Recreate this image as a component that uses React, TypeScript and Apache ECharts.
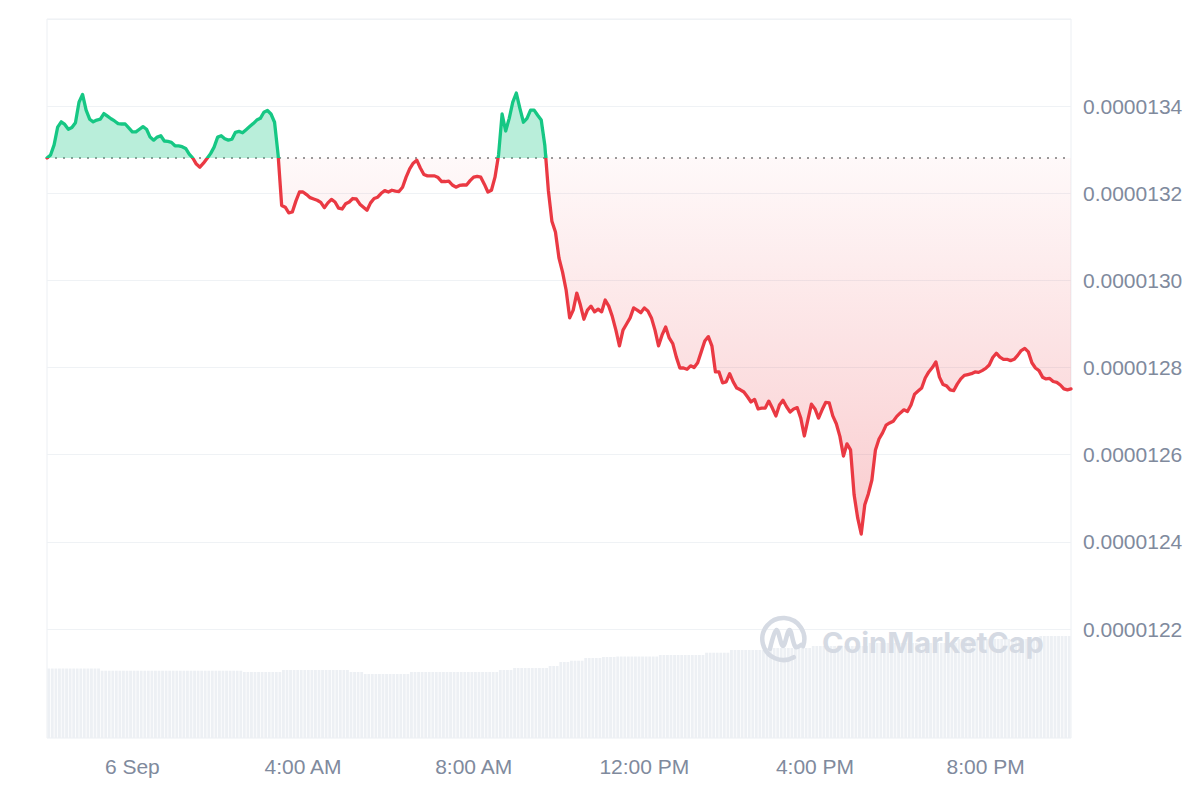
import React, { useEffect, useRef } from "react";
import * as echarts from "echarts";

// time axis: hours relative to midnight 6 Sep, 5-minute samples
const START_HOUR = -2;
const END_HOUR = 22;
const STEP_HOURS = 5 / 60;

// price in units of 1e-7 USD, one value every 5 minutes
const priceE7 = [
  132.81, 132.88, 133.11, 133.52, 133.64, 133.58, 133.47, 133.51, 133.62, 134.09,
  134.27, 133.91, 133.70, 133.64, 133.68, 133.70, 133.83, 133.77, 133.71, 133.66,
  133.60, 133.59, 133.59, 133.50, 133.41, 133.41, 133.47, 133.53, 133.47, 133.29,
  133.22, 133.29, 133.32, 133.20, 133.19, 133.17, 133.09, 133.09, 133.07, 133.03,
  132.90, 132.81, 132.67, 132.60, 132.69, 132.80, 132.91, 133.06, 133.29, 133.32,
  133.25, 133.22, 133.24, 133.40, 133.42, 133.39, 133.46, 133.53, 133.60, 133.68,
  133.72, 133.86, 133.90, 133.82, 133.63, 132.88, 131.72, 131.68, 131.55, 131.57,
  131.82, 132.03, 132.03, 131.97, 131.90, 131.87, 131.84, 131.79, 131.67, 131.78,
  131.86, 131.80, 131.66, 131.64, 131.76, 131.80, 131.88, 131.87, 131.75, 131.68,
  131.61, 131.78, 131.88, 131.91, 132.00, 132.06, 132.03, 132.07, 132.05, 132.04,
  132.14, 132.37, 132.56, 132.69, 132.76, 132.58, 132.43, 132.40, 132.40, 132.40,
  132.36, 132.27, 132.27, 132.28, 132.19, 132.14, 132.18, 132.19, 132.19, 132.29,
  132.37, 132.39, 132.37, 132.21, 132.03, 132.07, 132.37, 132.88, 133.82, 133.43,
  133.72, 134.09, 134.30, 133.95, 133.63, 133.72, 133.91, 133.91, 133.79, 133.68,
  133.11, 132.07, 131.36, 131.11, 130.51, 130.19, 129.78, 129.14, 129.32, 129.71,
  129.44, 129.11, 129.32, 129.41, 129.28, 129.34, 129.28, 129.55, 129.41, 129.17,
  128.86, 128.50, 128.86, 129.00, 129.14, 129.37, 129.32, 129.26, 129.37, 129.30,
  129.14, 128.86, 128.50, 128.75, 128.93, 128.68, 128.55, 128.24, 127.99, 127.99,
  127.96, 128.04, 128.00, 128.11, 128.36, 128.61, 128.71, 128.50, 127.90, 127.90,
  127.65, 127.67, 127.86, 127.67, 127.53, 127.49, 127.44, 127.33, 127.21, 127.27,
  127.05, 127.07, 127.07, 127.23, 127.07, 126.89, 127.14, 127.25, 127.10, 126.98,
  127.05, 127.08, 126.84, 126.43, 126.80, 127.16, 127.05, 126.84, 127.03, 127.20,
  127.19, 126.89, 126.71, 126.42, 125.97, 126.25, 126.11, 125.08, 124.55, 124.18,
  124.85, 125.10, 125.42, 126.11, 126.36, 126.50, 126.68, 126.73, 126.77, 126.88,
  126.96, 127.03, 126.99, 127.14, 127.39, 127.46, 127.53, 127.76, 127.90, 128.00,
  128.13, 127.78, 127.61, 127.58, 127.49, 127.47, 127.62, 127.74, 127.82, 127.84,
  127.86, 127.90, 127.89, 127.93, 127.98, 128.06, 128.23, 128.33, 128.24, 128.19,
  128.19, 128.16, 128.19, 128.28, 128.39, 128.44, 128.36, 128.11, 127.99, 127.93,
  127.78, 127.74, 127.75, 127.68, 127.66, 127.60, 127.51, 127.49, 127.51,
];

// reference (opening) price shown by the dotted line
const BASE_E7 = 132.81;

// rolling volume, arbitrary units, one bar per 5 minutes
const volume = [
  6.95, 6.95, 6.95, 6.95, 6.95, 6.95, 6.95, 6.95, 6.95, 6.95, 6.95, 6.95, 6.95, 6.95, 6.95,
  6.73, 6.73, 6.73, 6.73, 6.73, 6.73, 6.73, 6.73, 6.73, 6.73, 6.73, 6.73, 6.73, 6.73, 6.73, 6.73, 6.73, 6.73, 6.73, 6.73,
  6.73, 6.73, 6.73, 6.73, 6.73, 6.73, 6.73, 6.73, 6.73, 6.73, 6.73, 6.73, 6.73, 6.73, 6.73, 6.73, 6.73, 6.73, 6.73, 6.73,
  6.6, 6.6, 6.6, 6.6, 6.6, 6.6, 6.6, 6.6, 6.6, 6.6, 6.6,
  6.8, 6.8, 6.8, 6.8, 6.8, 6.8, 6.8, 6.8, 6.8, 6.8, 6.8, 6.8, 6.8, 6.8, 6.8, 6.8, 6.8, 6.8, 6.8,
  6.6, 6.6, 6.6, 6.6, 6.4, 6.4, 6.4, 6.4, 6.4, 6.4, 6.4, 6.4, 6.4, 6.4, 6.4, 6.4, 6.4,
  6.6, 6.6, 6.6, 6.6, 6.6, 6.6, 6.6, 6.6, 6.6, 6.6, 6.6, 6.6, 6.6, 6.6, 6.6, 6.6, 6.6, 6.6, 6.6, 6.6, 6.6, 6.6, 6.6, 6.6, 6.6,
  6.8, 6.8, 6.8, 6.8, 7.0, 7.0, 7.0, 7.0, 7.0, 7.0, 7.0, 7.0, 7.0, 7.0, 7.2, 7.2, 7.2, 7.6, 7.6, 7.6,
  7.73, 7.73, 7.73, 7.73, 8.0, 8.0, 8.0, 8.0, 8.0, 8.1, 8.1, 8.1, 8.1,
  8.15, 8.15, 8.15, 8.15, 8.15, 8.15, 8.15, 8.15, 8.15, 8.15, 8.15, 8.15,
  8.3, 8.3, 8.3, 8.3, 8.3, 8.3, 8.3, 8.3, 8.3, 8.3, 8.3, 8.3, 8.3, 8.53, 8.53, 8.53, 8.53, 8.53, 8.53, 8.53,
  8.8, 8.8, 8.8, 8.8, 8.8, 8.8, 8.8, 8.8, 8.8, 8.8, 9.0, 9.0, 9.0, 9.0, 9.0, 9.0, 9.0, 9.0, 9.0, 9.0, 9.0, 9.0, 9.0,
  9.2, 9.2, 9.2, 9.2, 9.2, 9.2, 9.2, 9.2, 9.2, 9.2, 9.2, 9.2, 9.2, 9.2, 9.2, 9.2,
  9.5, 9.5, 9.5, 9.5, 9.5, 9.5, 9.5, 9.5, 9.5, 9.5, 9.5, 9.5, 9.5, 9.5, 9.5, 9.5, 9.5, 9.5, 9.5, 9.5, 9.5, 9.5, 9.5, 9.5, 9.5,
  9.9, 9.9, 9.9, 9.9, 9.9, 9.9, 9.9, 9.9, 9.9, 9.9, 9.9, 9.9, 9.9, 9.9, 9.9, 9.9, 9.9, 9.9, 9.9, 9.9, 9.9, 9.9, 9.9,
  10.2, 10.2, 10.2, 10.2, 10.2, 10.2, 10.2, 10.2, 10.2,
];

const xTickHours = [0, 4, 8, 12, 16, 20];
const xTickLabels = ["6 Sep", "4:00 AM", "8:00 AM", "12:00 PM", "4:00 PM", "8:00 PM"];
const X_STEP = 2;

const Y_MIN = 0.0000122;
const Y_MAX = 0.0000136;
const Y_STEP = 0.0000002;
const VOL_MAX = 71.9;

const GREEN = "#16c784";
const RED = "#ea3943";
const LABEL = "#808a9d";
const GRID_LINE = "#eff2f5";
const FONT = "'Liberation Sans', Arial, sans-serif";
const HEIGHT = 800;

export default function App() {
  const ref = useRef<HTMLDivElement>(null);

  useEffect(() => {
    if (!ref.current) return;
    const chart = echarts.init(ref.current, null, { renderer: "svg" });
    const base = BASE_E7 * 1e-7;
    const t = (i: number) => START_HOUR + i * STEP_HOURS;
    const lineData = priceE7.map((p, i) => [t(i), p * 1e-7]);
    const upper = priceE7.map((p, i) => [t(i), Math.max(p, BASE_E7) * 1e-7]);
    const lower = priceE7.map((p, i) => [t(i), Math.min(p, BASE_E7) * 1e-7]);
    const volData = volume.map((v, i) => [t(i + 0.5), v]);

    chart.setOption({
      animation: false,
      backgroundColor: "#ffffff",
      textStyle: { fontFamily: FONT },
      grid: [
        { left: 47, right: 129, top: 19, bottom: 171 },
        {
          left: 47, right: 129, top: 19, bottom: 62,
          show: true, borderColor: "#eceff3", borderWidth: 1, backgroundColor: "transparent",
        },
      ],
      xAxis: [
        { type: "value", gridIndex: 0, min: START_HOUR, max: END_HOUR, show: false },
        {
          type: "value", gridIndex: 1, min: START_HOUR, max: END_HOUR, interval: X_STEP,
          axisLine: { show: false }, axisTick: { show: false }, splitLine: { show: false },
          axisLabel: {
            color: LABEL, fontSize: 21, margin: 18, fontFamily: FONT,
            showMinLabel: true, showMaxLabel: true, hideOverlap: false,
            formatter: (v: number) => {
              const k = xTickHours.indexOf(Math.round(v));
              return k >= 0 ? xTickLabels[k] : "";
            },
          },
        },
      ],
      yAxis: [
        {
          type: "value", gridIndex: 0, position: "right",
          min: Y_MIN, max: Y_MAX, interval: Y_STEP,
          axisLine: { show: false }, axisTick: { show: false },
          axisLabel: {
            color: LABEL, fontSize: 21, margin: 12, fontFamily: FONT,
            formatter: (v: number) => (v > Y_MAX - Y_STEP / 2 ? "" : v.toFixed(7)),
          },
          splitLine: { lineStyle: { color: GRID_LINE, width: 1 } },
        },
        { type: "value", gridIndex: 1, min: 0, max: VOL_MAX, show: false },
      ],
      series: [
        {
          id: "volume", type: "bar", xAxisIndex: 1, yAxisIndex: 1, data: volData,
          barWidth: 2.8, itemStyle: { color: "#edf0f4" }, silent: true,
        },
        {
          id: "up", type: "line", xAxisIndex: 0, yAxisIndex: 0, data: upper,
          showSymbol: false, symbol: "none", silent: true,
          lineStyle: { width: 0, opacity: 0 },
          areaStyle: { origin: base, color: "rgba(22,199,132,0.3)", opacity: 1 },
        },
        {
          id: "down", type: "line", xAxisIndex: 0, yAxisIndex: 0, data: lower,
          showSymbol: false, symbol: "none", silent: true,
          lineStyle: { width: 0, opacity: 0 },
          areaStyle: {
            origin: base, opacity: 1,
            color: new echarts.graphic.LinearGradient(0, 0, 0, 1, [
              { offset: 0, color: "rgba(234,57,67,0.03)" },
              { offset: 1, color: "rgba(234,57,67,0.26)" },
            ]),
          },
        },
        {
          id: "price", type: "line", xAxisIndex: 0, yAxisIndex: 0, data: lineData, z: 5,
          showSymbol: false, symbol: "none", silent: true,
          lineStyle: { width: 3.3, join: "round", cap: "round", color: RED },
          markLine: {
            silent: true, symbol: ["none", "none"], label: { show: false }, z: 3,
            precision: 12,
            emphasis: { disabled: true },
            lineStyle: { color: "#9a9a9a", width: 2, type: [2, 6], opacity: 1 },
            data: [{ yAxis: base }],
          },
        },
      ],
      graphic: [
        {
          type: "arc", z: 50, silent: true,
          shape: { cx: 783.3, cy: 639, r: 21, startAngle: Math.PI / 3, endAngle: Math.PI * 2 + Math.PI / 9 },
          style: { stroke: "#d5dae3", lineWidth: 4.5, fill: "none", lineCap: "round" },
        },
        {
          type: "polyline", z: 50, silent: true,
          shape: {
            points: [[770, 649], [776.5, 630], [783, 646], [789.5, 630], [795.5, 647], [801, 645]],
            smooth: 0.35,
          },
          style: { stroke: "#d5dae3", lineWidth: 4.5, fill: "none", lineCap: "round", lineJoin: "round" },
        },
        {
          type: "text", z: 50, silent: true, x: 822, y: 642,
          style: {
            text: "CoinMarketCap", fill: "#d5dae3", fontSize: 29, fontWeight: 700,
            fontFamily: "Inter, 'Open Sans', sans-serif", verticalAlign: "middle", align: "left",
          },
        },
      ],
    });

    // colour the price line green above the reference price and red below it
    const yBase = chart.convertToPixel({ yAxisIndex: 0 }, base) as number;
    const f = Math.min(1, Math.max(0, yBase / HEIGHT));
    chart.setOption({
      series: [
        {
          id: "price",
          lineStyle: {
            color: new echarts.graphic.LinearGradient(0, 0, 0, HEIGHT, [
              { offset: 0, color: GREEN },
              { offset: f, color: GREEN },
              { offset: f, color: RED },
              { offset: 1, color: RED },
            ], true),
          },
        },
      ],
    });

    return () => chart.dispose();
  }, []);

  return (
    <div
      ref={ref}
      style={{ position: "fixed", left: 0, top: 0, width: 1200, height: 800 }}
    />
  );
}
